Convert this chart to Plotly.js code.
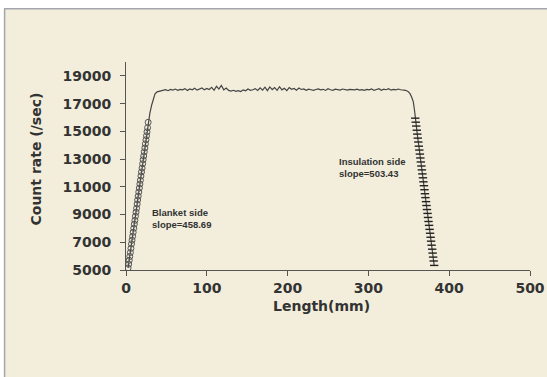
<!DOCTYPE html>
<html>
<head>
<meta charset="utf-8">
<script src="https://cdn.plot.ly/plotly-3.0.1.min.js"></script>
<style>html,body{margin:0;padding:0;background:#fff;}#chart{width:547px;height:377px;}</style>
</head>
<body>
<div id="chart"></div>
<script>
// Blanket side (rising edge) points, marked with open circles
const riseX = [2.6,3.3,4.0,4.7,5.4,6.1,6.8,7.5,8.2,8.9,9.6,10.3,11.0,11.7,12.4,13.1,13.8,14.4,15.1,15.8,16.5,17.2,17.8,18.5,19.2,19.9,20.6,21.2,21.9,22.6,23.3,24.0,24.7,25.4,26.0,26.7,27.4];
const riseY = [5150,5420,5700,5980,6260,6560,6880,7150,7430,7720,8010,8310,8580,8880,9170,9450,9760,10050,10330,10620,10910,11200,11470,11780,12070,12350,12660,12950,13220,13520,13800,14100,14390,14680,14960,15260,15650];
// Transition to plateau
const upX = [29.5,31.8,33.5,35.9,38.5,41.5,44];
const upY = [16300,16900,17200,17700,17850,17900,17950];
// Plateau
const flatX = [46,49,52,55,58,61,64,67,70,73,76,79,82,85,88,91,94,97,100,103,106,109,112,115,118,121,124,127,130,133,136,139,142,145,148,151,154,157,160,163,166,169,172,175,178,181,184,187,190,193,196,199,202,205,208,211,214,217,220,223,226,229,232,235,238,241,244,247,250,253,256,259,262,265,268,271,274,277,280,283,286,289,292,295,298,301,304,307,310,313,316,319,322,325,328,331,334,337,340];
const flatY = [17950,18010,17930,18020,17980,18050,17960,18030,17990,18080,17940,18060,18000,18110,17970,18040,18130,17990,18090,18020,18170,17960,18250,18050,18310,17990,18120,17950,17900,17960,17880,17930,17870,17990,17920,18050,17960,18000,18080,17950,18140,17970,18180,17930,18200,18010,18150,17960,18220,17990,18110,17940,18160,18030,18090,17970,18120,18020,18060,17960,18040,18000,17950,18020,18060,17990,18030,17950,18070,18000,17960,18040,18010,17980,18050,18000,17970,18030,18000,17990,18040,17980,18010,17960,18030,17990,18060,17950,18020,18070,17960,18040,18000,18080,17970,18030,17990,18050,18000];
// Transition down
const downX = [343,346,349,351.5,353.5,355.6,357.1];
const downY = [17980,17960,17880,17720,17480,17130,16500];
// Insulation side (falling edge) points, marked with dashes
const fallX = [358.0,358.6,359.2,359.9,360.5,361.1,361.8,362.4,363.0,363.7,364.3,364.9,365.6,366.2,366.8,367.5,368.1,368.7,369.4,370.0,370.6,371.3,371.9,372.5,373.2,373.8,374.4,375.1,375.7,376.3,377.0,377.6,378.2,378.9,379.5,380.1,380.8,381.4];
const fallY = [15950,15660,15380,15080,14800,14510,14230,13930,13650,13360,13080,12790,12500,12220,11930,11650,11360,11080,10790,10500,10220,9930,9650,9360,9080,8790,8500,8220,7930,7650,7360,7080,6790,6500,6220,5930,5650,5330];

const xTicks = [0,100,200,300,400,500];
const yTicks = [5000,7000,9000,11000,13000,15000,17000,19000];
const labels = {
  x: 'Length(mm)',
  y: 'Count rate (/sec)',
  blanket: 'Blanket side<br>slope=458.69',
  insulation: 'Insulation side<br>slope=503.43'
};

const allX = [].concat(riseX, upX, flatX, downX, fallX);
const allY = [].concat(riseY, upY, flatY, downY, fallY);

const cream = '#F2EEDB';
const axisFont = {family: 'DejaVu Sans', size: 14, color: '#333333', weight: 'bold'};

const traces = [
  {x: allX, y: allY, mode: 'lines', line: {color: '#444444', width: 1.2}, hoverinfo: 'skip'},
  {x: riseX, y: riseY, mode: 'markers', marker: {symbol: 'circle-open', size: 6, color: '#555555', line: {width: 1, color: '#555555'}}},
  {x: fallX, y: fallY, mode: 'markers', marker: {symbol: 'line-ew', size: 6, color: '#222222', line: {width: 1.4, color: '#222222'}}}
];

const px = v => (v - 126) / 404;
const py = v => (270 - v) / 208;

const layout = {
  width: 547, height: 377,
  margin: {l: 126, r: 17, t: 62, b: 107},
  paper_bgcolor: cream, plot_bgcolor: cream,
  showlegend: false,
  xaxis: {
    range: [0, 500], tickvals: xTicks, ticktext: xTicks.map(String),
    showgrid: false, zeroline: false, showline: true, linecolor: '#555555', linewidth: 1,
    ticks: 'outside', ticklen: 5, tickcolor: '#555555', tickfont: axisFont, fixedrange: true
  },
  yaxis: {
    range: [5000, 20000], tickvals: yTicks, ticktext: yTicks.map(String),
    showgrid: false, zeroline: false, showline: true, linecolor: '#555555', linewidth: 1,
    ticks: 'outside', ticklen: 5, tickcolor: '#555555', tickfont: axisFont, fixedrange: true,
    ticklabelstandoff: 6
  },
  annotations: [
    {text: labels.x, xref: 'paper', yref: 'paper', x: px(321), y: py(306), xanchor: 'center', yanchor: 'middle', showarrow: false, font: axisFont},
    {text: labels.y, xref: 'paper', yref: 'paper', x: px(35.5), y: py(159), textangle: -90, xanchor: 'center', yanchor: 'middle', showarrow: false, font: axisFont},
    {text: labels.blanket, xref: 'paper', yref: 'paper', x: px(150), y: py(218), xanchor: 'left', yanchor: 'middle', align: 'left', showarrow: false, font: {family: 'Liberation Sans', size: 9.5, color: '#333333', weight: 'bold'}},
    {text: labels.insulation, xref: 'paper', yref: 'paper', x: px(337), y: py(167), xanchor: 'left', yanchor: 'middle', align: 'left', showarrow: false, font: {family: 'Liberation Sans', size: 9.5, color: '#333333', weight: 'bold'}}
  ],
  shapes: [
    {type: 'rect', xref: 'paper', yref: 'paper', x0: -0.5, x1: 1.5, y0: py(8.2), y1: py(-10), fillcolor: '#ffffff', line: {width: 0}, layer: 'above'},
    {type: 'rect', xref: 'paper', yref: 'paper', x0: -0.5, x1: px(4), y0: py(400), y1: py(-10), fillcolor: '#ffffff', line: {width: 0}, layer: 'above'},
    {type: 'line', xref: 'paper', yref: 'paper', x0: px(4), x1: 1.5, y0: py(8.8), y1: py(8.8), line: {color: '#A3A6AD', width: 1.5}, layer: 'above'},
    {type: 'line', xref: 'paper', yref: 'paper', x0: px(4.6), x1: px(4.6), y0: py(400), y1: py(8.8), line: {color: '#A3A6AD', width: 1.5}, layer: 'above'}
  ]
};

Plotly.newPlot('chart', traces, layout, {displayModeBar: false, staticPlot: true});
</script>
</body>
</html>
